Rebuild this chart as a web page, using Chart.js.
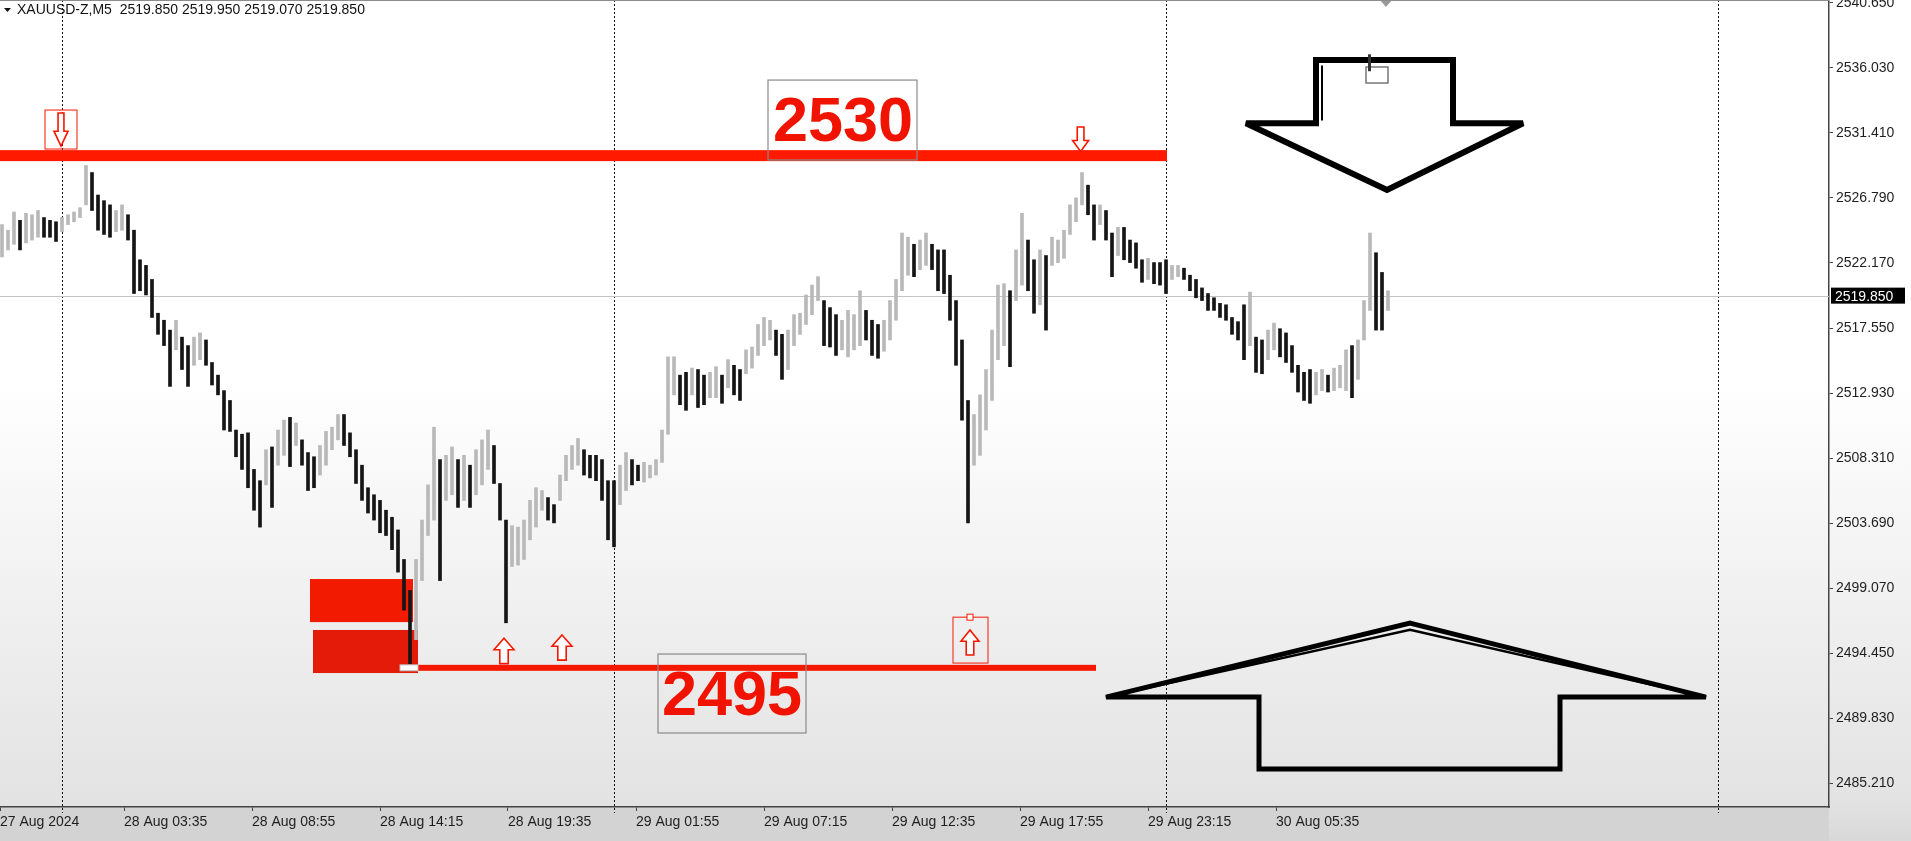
<!DOCTYPE html>
<html>
<head>
<meta charset="utf-8">
<script src="https://cdn.jsdelivr.net/npm/chart.js@4/dist/chart.umd.min.js"></script>
<style>
  html, body { margin: 0; padding: 0; background: #fff; overflow: hidden; }
  canvas { display: block; }
</style>
</head>
<body>
<canvas id="graph" width="1911" height="841"></canvas>
<script>
// header line of the terminal window
var headerText = 'XAUUSD-Z,M5  2519.850 2519.950 2519.070 2519.850';
var lastPrice = 2519.85;

// one candle = 3 M5 bars (15 min)
var barsPerCandle = 3;
var highs = [
  2524.9, 2524.5, 2525.8, 2525.2, 2525.7, 2525.6, 2525.9, 2525.4, 2525.2, 2525.1,
  2525.4, 2525.6, 2525.8, 2526.1, 2529.1, 2528.6, 2527.0, 2526.6, 2526.3, 2525.9,
  2526.3, 2525.6, 2524.5, 2522.4, 2522.0, 2521.0, 2518.6, 2518.1, 2517.4, 2518.1,
  2516.9, 2516.3, 2516.9, 2517.2, 2516.7, 2515.1, 2514.2, 2513.1, 2512.4, 2510.3,
  2510.0, 2510.1, 2507.5, 2506.7, 2508.9, 2509.1, 2510.3, 2511.0, 2511.2, 2510.8,
  2509.6, 2508.7, 2508.4, 2509.2, 2510.2, 2510.5, 2511.4, 2511.4, 2510.1, 2508.9,
  2507.8, 2506.2, 2505.7, 2505.3, 2504.6, 2504.1, 2503.2, 2501.1, 2498.9, 2501.1,
  2503.9, 2506.4, 2510.5, 2508.2, 2508.5, 2509.1, 2508.2, 2508.5, 2507.8, 2508.9,
  2509.6, 2510.3, 2509.2, 2506.5, 2503.9, 2503.5, 2503.4, 2503.9, 2505.3, 2506.2,
  2506.0, 2505.5, 2505.0, 2507.1, 2508.5, 2509.2, 2509.7, 2508.9, 2508.5, 2508.5,
  2508.2, 2506.7, 2506.7, 2507.8, 2508.7, 2508.2, 2507.8, 2508.0, 2507.8, 2508.2,
  2510.3, 2515.5, 2515.5, 2514.2, 2514.4, 2514.7, 2514.6, 2514.2, 2514.4, 2514.8,
  2514.2, 2515.3, 2514.9, 2514.6, 2516.0, 2516.2, 2517.8, 2518.3, 2518.1, 2517.4,
  2517.1, 2517.4, 2518.5, 2518.6, 2519.9, 2520.6, 2521.2, 2519.5, 2519.0, 2518.5,
  2518.1, 2518.8, 2518.5, 2520.2, 2518.8, 2518.1, 2517.8, 2518.1, 2519.5, 2521.0,
  2524.3, 2524.0, 2523.5, 2523.8, 2524.3, 2523.5, 2523.1, 2523.1, 2521.3, 2519.5,
  2516.7, 2512.4, 2511.4, 2512.8, 2514.6, 2517.4, 2520.6, 2520.7, 2520.2, 2523.1,
  2525.7, 2523.8, 2522.4, 2523.1, 2522.7, 2524.0, 2523.8, 2524.5, 2526.3, 2526.8,
  2528.6, 2527.7, 2526.3, 2526.3, 2525.9, 2524.3, 2524.7, 2524.7, 2523.8, 2523.6,
  2522.4, 2522.5, 2522.2, 2522.2, 2522.4, 2522.0, 2522.0, 2521.8, 2521.3, 2521.0,
  2520.4, 2520.0, 2519.7, 2519.3, 2519.2, 2518.3, 2518.0, 2519.2, 2520.1, 2516.9,
  2516.7, 2517.4, 2517.9, 2517.5, 2517.2, 2516.3, 2514.9, 2514.4, 2514.6, 2514.4,
  2514.6, 2514.2, 2514.7, 2514.9, 2516.0, 2516.3, 2516.7, 2519.5, 2524.3, 2522.9,
  2521.5, 2520.2
];
var lows = [
  2522.6, 2523.1, 2523.5, 2523.1, 2523.6, 2523.8, 2524.0, 2524.0, 2524.0, 2523.7,
  2524.4, 2524.9, 2525.1, 2525.4, 2526.3, 2525.9, 2524.5, 2524.2, 2524.0, 2524.4,
  2524.5, 2523.8, 2520.0, 2520.2, 2519.9, 2518.3, 2517.1, 2516.3, 2513.4, 2516.0,
  2514.6, 2513.4, 2514.9, 2515.3, 2514.9, 2513.5, 2512.8, 2510.3, 2510.2, 2508.4,
  2507.5, 2506.2, 2504.6, 2503.4, 2506.4, 2504.8, 2507.8, 2508.5, 2507.7, 2509.2,
  2507.8, 2506.0, 2506.2, 2507.1, 2507.8, 2508.9, 2509.6, 2509.2, 2508.4, 2506.5,
  2505.3, 2504.4, 2503.9, 2503.0, 2502.8, 2501.8, 2500.2, 2497.5, 2493.7, 2495.4,
  2499.6, 2502.8, 2503.9, 2499.6, 2505.3, 2505.7, 2504.8, 2505.3, 2504.8, 2505.7,
  2506.4, 2507.5, 2506.5, 2503.9, 2496.6, 2500.6, 2500.7, 2501.1, 2502.5, 2503.4,
  2504.6, 2503.9, 2503.7, 2505.3, 2506.7, 2507.5, 2507.8, 2507.1, 2506.9, 2506.7,
  2505.3, 2502.5, 2502.0, 2505.0, 2506.0, 2506.4, 2506.7, 2506.6, 2506.9, 2507.1,
  2508.0, 2510.0, 2512.8, 2512.1, 2511.7, 2512.8, 2511.9, 2512.1, 2512.6, 2512.6,
  2512.2, 2513.3, 2512.8, 2512.4, 2514.3, 2514.7, 2515.6, 2516.3, 2516.7, 2515.6,
  2513.9, 2514.6, 2516.3, 2517.1, 2517.8, 2518.5, 2519.5, 2516.3, 2516.2, 2515.6,
  2516.0, 2515.5, 2516.0, 2516.3, 2516.7, 2515.6, 2515.4, 2515.9, 2516.7, 2518.1,
  2520.2, 2521.3, 2521.2, 2521.7, 2522.0, 2521.7, 2520.2, 2520.0, 2518.1, 2514.9,
  2511.0, 2503.7, 2507.8, 2508.5, 2510.3, 2512.4, 2515.3, 2516.3, 2514.8, 2519.5,
  2520.6, 2520.2, 2518.6, 2519.2, 2517.4, 2522.0, 2522.2, 2522.5, 2524.2, 2525.1,
  2526.3, 2525.6, 2523.8, 2524.9, 2523.8, 2521.2, 2522.7, 2522.4, 2522.2, 2521.8,
  2520.8, 2521.0, 2520.7, 2520.6, 2520.0, 2521.0, 2521.2, 2521.0, 2520.2, 2519.7,
  2519.5, 2518.8, 2518.8, 2518.3, 2518.1, 2517.1, 2516.7, 2515.3, 2516.3, 2514.4,
  2514.3, 2515.3, 2516.0, 2515.5, 2515.1, 2514.4, 2513.0, 2512.4, 2512.2, 2512.8,
  2513.1, 2513.0, 2513.1, 2513.3, 2513.1, 2512.6, 2513.9, 2516.7, 2518.8, 2517.4,
  2517.4, 2518.8
];

// axis ticks (x in M5 bar numbers)
var priceTicks = [2485.21, 2489.83, 2494.45, 2499.07, 2503.69, 2508.31, 2512.93,
                  2517.55, 2522.17, 2526.79, 2531.41, 2536.03, 2540.65];
var timeTickBars = [0, 62, 126, 190, 254, 318, 382, 446, 510, 574, 638];
var timeTickLabels = ['27 Aug 2024', '28 Aug 03:35', '28 Aug 08:55', '28 Aug 14:15',
  '28 Aug 19:35', '29 Aug 01:55', '29 Aug 07:15', '29 Aug 12:35', '29 Aug 17:55',
  '29 Aug 23:15', '30 Aug 05:35'];
var daySeparatorBars = [31, 307, 583, 859];

// drawn levels
var resistanceLevel = 2529.8;
var supportLevel = 2493.4;

var RED = '#f51800';

// build dataset
var candles = [];
var colors = [];
for (var i = 0; i < highs.length; i++) {
    candles.push({ x: i * barsPerCandle + 1, y: [lows[i], highs[i]] });
    var mid = (highs[i] + lows[i]) / 2;
    var prevMid = i > 0 ? (highs[i - 1] + lows[i - 1]) / 2 : mid;
    colors.push(mid >= prevMid ? '#b9b9b9' : '#151515');
}

function X(chart, bar) { return chart.scales.x.getPixelForValue(bar); }
function Y(chart, price) { return chart.scales.y.getPixelForValue(price); }

function hollowArrow(c, cx, top, w, h, up) {
    var hh = h * 0.45, sw = w * 0.42;
    var s = up ? 1 : -1;
    var y0 = up ? top : top + h;
    c.beginPath();
    c.moveTo(cx, y0);
    c.lineTo(cx + w / 2, y0 + s * hh);
    c.lineTo(cx + sw / 2, y0 + s * hh);
    c.lineTo(cx + sw / 2, y0 + s * h);
    c.lineTo(cx - sw / 2, y0 + s * h);
    c.lineTo(cx - sw / 2, y0 + s * hh);
    c.lineTo(cx - w / 2, y0 + s * hh);
    c.closePath();
    c.fillStyle = '#ffffff';
    c.fill();
    c.lineWidth = 1.6;
    c.strokeStyle = RED;
    c.stroke();
}

function polyline(c, chart, pts, close) {
    c.beginPath();
    pts.forEach(function (p, k) {
        var x = X(chart, p[0]), y = Y(chart, p[1]);
        if (k === 0) c.moveTo(x, y); else c.lineTo(x, y);
    });
    if (close) c.closePath();
    c.stroke();
}

var terminalLook = {
    id: 'terminalLook',
    beforeDraw: function (chart) {
        var c = chart.ctx, a = chart.chartArea;
        var g = c.createLinearGradient(0, 0, 0, chart.height);
        g.addColorStop(0, '#ffffff');
        g.addColorStop(0.45, '#ffffff');
        g.addColorStop(0.95, '#e3e3e3');
        g.addColorStop(1, '#d8d8d8');
        c.fillStyle = g;
        c.fillRect(0, 0, chart.width, chart.height);
        c.fillStyle = '#d3d3d3';
        c.fillRect(0, a.bottom, a.right, chart.height - a.bottom);
    },
    beforeDatasetsDraw: function (chart) {
        var c = chart.ctx, a = chart.chartArea;
        c.save();
        // day separators
        c.strokeStyle = '#111';
        c.lineWidth = 1;
        c.setLineDash([2, 2]);
        daySeparatorBars.forEach(function (b) {
            var x = Math.round(X(chart, b)) + 0.5;
            c.beginPath();
            c.moveTo(x, a.top);
            c.lineTo(x, a.bottom + 6);
            c.stroke();
        });
        c.setLineDash([]);
        // current price line
        var yp = Math.round(Y(chart, lastPrice)) + 0.5;
        c.strokeStyle = '#c4c4c4';
        c.beginPath();
        c.moveTo(a.left, yp);
        c.lineTo(a.right, yp);
        c.stroke();
        // red zones near the low
        c.fillStyle = '#f21a00';
        c.fillRect(X(chart, 155), Y(chart, 2499.71), X(chart, 206.5) - X(chart, 155), Y(chart, 2496.65) - Y(chart, 2499.71));
        c.fillStyle = '#e31b08';
        c.fillRect(X(chart, 156.5), Y(chart, 2496.09), X(chart, 209) - X(chart, 156.5), Y(chart, 2493.03) - Y(chart, 2496.09));
        // resistance / support lines
        var yr = Y(chart, resistanceLevel);
        c.fillStyle = '#ff1a00';
        c.fillRect(X(chart, 0), yr - 5.5, X(chart, 583.5) - X(chart, 0), 11);
        var ys = Y(chart, supportLevel);
        c.fillStyle = RED;
        c.fillRect(X(chart, 209), ys - 3, X(chart, 548) - X(chart, 209), 6);
        c.restore();
    },
    afterDatasetsDraw: function (chart) {
        var c = chart.ctx, a = chart.chartArea;
        c.save();
        var ys = Y(chart, supportLevel);
        // small marker at the low
        c.fillStyle = '#ffffff';
        c.fillRect(X(chart, 200), ys - 3, X(chart, 209) - X(chart, 200), 6);
        c.strokeStyle = '#bbbbbb';
        c.lineWidth = 1;
        c.strokeRect(X(chart, 200), ys - 3, X(chart, 209) - X(chart, 200), 6);

        // label boxes
        c.strokeStyle = '#8a8a8a';
        c.lineWidth = 1.2;
        c.strokeRect(X(chart, 384), Y(chart, 2535.17), X(chart, 458.5) - X(chart, 384), Y(chart, 2529.49) - Y(chart, 2535.17));
        c.strokeRect(X(chart, 329), Y(chart, 2494.38), X(chart, 403) - X(chart, 329), Y(chart, 2488.77) - Y(chart, 2494.38));
        c.fillStyle = '#f01400';
        c.font = 'bold 63px "Liberation Sans", Arial, sans-serif';
        c.textAlign = 'center';
        c.textBaseline = 'middle';
        c.fillText('2530', X(chart, 421.5), Y(chart, 2532.2) + 2);
        c.fillText('2495', X(chart, 366), Y(chart, 2491.4) + 2);

        // small red arrows
        c.strokeStyle = RED;
        c.lineWidth = 1;
        var bx = X(chart, 22.5), by = Y(chart, 2533.04);
        c.strokeRect(bx, by, X(chart, 38.5) - bx, Y(chart, 2530.27) - by);
        hollowArrow(c, X(chart, 30.5), Y(chart, 2532.83), 14, Y(chart, 2530.48) - Y(chart, 2532.83), false);
        hollowArrow(c, X(chart, 540.3), Y(chart, 2531.83), 16, Y(chart, 2530.1) - Y(chart, 2531.83), false);
        hollowArrow(c, X(chart, 252), Y(chart, 2495.5), 20, Y(chart, 2493.7) - Y(chart, 2495.5), true);
        hollowArrow(c, X(chart, 281), Y(chart, 2495.73), 20, Y(chart, 2493.95) - Y(chart, 2495.73), true);
        c.strokeStyle = RED;
        c.lineWidth = 1;
        bx = X(chart, 476.5); by = Y(chart, 2497.0);
        c.strokeRect(bx, by, X(chart, 494) - bx, Y(chart, 2493.74) - by);
        c.fillStyle = '#fff';
        c.fillRect(X(chart, 485) - 3, by - 3, 6, 6);
        c.strokeRect(X(chart, 485) - 3, by - 3, 6, 6);
        hollowArrow(c, X(chart, 485), Y(chart, 2496.09), 18, Y(chart, 2494.31) - Y(chart, 2496.09), true);

        // big hand-drawn arrows
        c.strokeStyle = '#000';
        c.lineJoin = 'miter';
        c.miterLimit = 2.5;
        c.lineWidth = 6;
        polyline(c, chart, [[658, 2536.6], [726.5, 2536.6], [726.5, 2532.1], [761.5, 2532.1],
            [693.5, 2527.36], [623, 2532.1], [658, 2532.1]], true);
        c.lineWidth = 2;
        polyline(c, chart, [[661, 2536.2], [661, 2532.3]], false);
        c.lineWidth = 5;
        polyline(c, chart, [[705, 2496.58], [853, 2491.32], [780, 2491.32], [780, 2486.21],
            [629.5, 2486.21], [629.5, 2491.32], [553, 2491.32]], true);
        c.lineWidth = 2.5;
        polyline(c, chart, [[553, 2491.32], [705, 2496.1], [853, 2491.32]], false);

        // small box near the top
        c.strokeStyle = '#777';
        c.lineWidth = 1.5;
        c.strokeRect(X(chart, 683), Y(chart, 2536.1), X(chart, 694) - X(chart, 683), Y(chart, 2534.96) - Y(chart, 2536.1));
        c.fillStyle = '#333';
        c.fillRect(X(chart, 684), Y(chart, 2537.0), 3, Y(chart, 2535.8) - Y(chart, 2537.0));
        // grey marker at the top edge
        var tx = X(chart, 693);
        c.fillStyle = '#9a9a9a';
        c.beginPath();
        c.moveTo(tx - 6, a.top);
        c.lineTo(tx + 6, a.top);
        c.lineTo(tx, a.top + 7);
        c.closePath();
        c.fill();

        // top border and header
        c.fillStyle = '#8c8c8c';
        c.fillRect(0, 0, a.right, 1);
        c.fillStyle = '#111';
        c.beginPath();
        c.moveTo(4, 8);
        c.lineTo(11, 8);
        c.lineTo(7.5, 12);
        c.closePath();
        c.fill();
        c.font = '14px "Liberation Sans", Arial, sans-serif';
        c.textAlign = 'left';
        c.textBaseline = 'middle';
        c.fillText(headerText, 17, 10);

        // current price tag
        var yp = Y(chart, lastPrice);
        c.fillStyle = '#000';
        c.fillRect(a.right + 2, yp - 8, 74, 16);
        c.fillStyle = '#fff';
        c.font = '14px "Liberation Sans", Arial, sans-serif';
        c.fillText(lastPrice.toFixed(3), a.right + 6, yp + 1);
        c.restore();
    }
};

var chart = new Chart(document.getElementById('graph'), {
    type: 'bar',
    data: {
        datasets: [{
            data: candles,
            backgroundColor: colors,
            borderWidth: 0,
            barThickness: 3
        }]
    },
    options: {
        responsive: false,
        animation: false,
        devicePixelRatio: 1,
        layout: { padding: 0 },
        plugins: { legend: { display: false }, tooltip: { enabled: false } },
        scales: {
            x: {
                type: 'linear',
                position: 'bottom',
                min: 0,
                max: 914.5,
                offset: false,
                afterBuildTicks: function (s) {
                    s.ticks = timeTickBars.map(function (v) { return { value: v }; });
                },
                afterFit: function (s) {
                    s.height = 34;
                    s.paddingLeft = 0;
                    s.paddingRight = 0;
                },
                ticks: {
                    autoSkip: false,
                    maxRotation: 0,
                    align: 'start',
                    padding: 3,
                    color: '#1e1e1e',
                    font: { family: '"Liberation Sans", Arial, sans-serif', size: 14 },
                    callback: function (v, idx) { return timeTickLabels[idx]; }
                },
                grid: { drawOnChartArea: false, drawTicks: true, tickLength: 4, color: '#444', offset: false },
                border: { display: true, color: '#444', width: 1.5 }
            },
            y: {
                type: 'linear',
                position: 'right',
                min: 2483.51,
                max: 2540.86,
                afterBuildTicks: function (s) {
                    s.ticks = priceTicks.map(function (v) { return { value: v }; });
                },
                afterFit: function (s) {
                    s.width = 82;
                    s.paddingTop = 0;
                    s.paddingBottom = 0;
                },
                ticks: {
                    padding: 3,
                    color: '#1e1e1e',
                    font: { family: '"Liberation Sans", Arial, sans-serif', size: 14 },
                    callback: function (v) { return Number(v).toFixed(3); }
                },
                grid: { drawOnChartArea: false, drawTicks: true, tickLength: 4, color: '#444' },
                border: { display: true, color: '#444', width: 1.5 }
            }
        }
    },
    plugins: [terminalLook]
});
</script>
</body>
</html>
